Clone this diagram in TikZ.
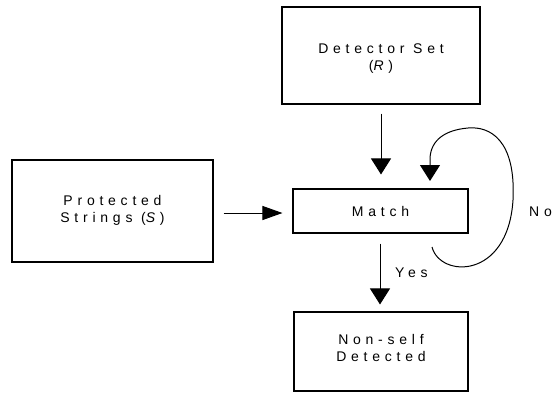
\documentclass[tikz,border=0pt]{standalone}
\usepackage{fontspec}
\setmainfont{Liberation Sans}[LetterSpace=34]
\usetikzlibrary{arrows.meta}
\tikzset{
  txt/.style={font=\fontsize{14}{17}\selectfont},
  box/.style={draw, line width=1.1pt, inner sep=0pt, align=center, txt},
  conn/.style={line width=1pt},
  vtip/.style={-{Triangle[length=16pt,width=20pt]}},
  htip/.style={-{Triangle[length=20pt,width=14pt]}},
  lbl/.style={txt, inner sep=0pt, anchor=west}
}
\begin{document}
\begin{tikzpicture}[x=1pt,y=-1pt]
\useasboundingbox (0,0) rectangle (556,392);
\node[box, minimum width=198pt, minimum height=97pt] (det) at (381,55.5) {};
\node[txt, align=center] (dett) at (381,58.5) {Detector Set\\(\textit{R})};
\node[box, minimum width=201pt, minimum height=102pt] (prot) at (112.5,211) {};
\node[txt, align=center] (prott) at (112.5,210) {Protected\\Strings (\textit{S})};
\node[box, minimum width=175pt, minimum height=44pt] (match) at (380.5,211) {Match};
\node[box, minimum width=174pt, minimum height=79pt] (ns) at (381,351.5) {};
\node[txt, align=center] (nst) at (381,348) {Non-self\\Detected};
\node[lbl] (yes) at (395,273) {Yes};
\node[lbl] (no) at (529,212) {No};
% arrows
\draw[conn, vtip, shorten <=9pt, shorten >=14pt] (det.south) -- (det.south |- match.north);
\draw[conn, htip, shorten <=10pt, shorten >=10pt] (prot.east |- 0,213) -- (match.west |- 0,213);
\draw[conn, vtip, shorten <=10pt, shorten >=7pt] (match.south -| 380,0) -- (ns.north -| 380,0);
\coordinate (ls) at (432,247);
\coordinate (le) at (430,181);
\draw[conn, vtip] (ls) .. controls (440,278) and (508,280) .. (513,200)
  .. controls (516,140) and (490,126) .. (468,128)
  .. controls (445,130) and (431,140) .. (430,158) -- (le);
\end{tikzpicture}
\end{document}
